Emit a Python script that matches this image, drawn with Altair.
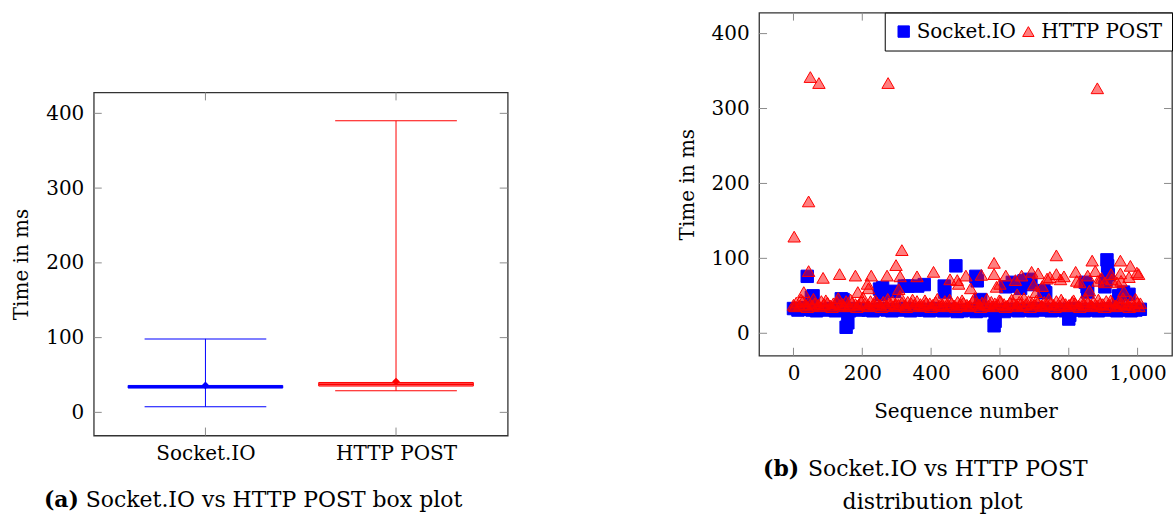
import altair as alt
import pandas as pd

FONT = "DejaVu Serif"
BLUE = "#0000ff"
RED = "#ff0000"
RED_FILL = "rgba(255,0,0,0.5)"
TICK_GRAY = "#8c8c8c"

# ---------------- box plot data ----------------
categories = ["Socket.IO", "HTTP POST"]
whisker_low = [7.6, 29.0]
whisker_high = [98.3, 390.0]
box_q1 = [32.5, 35.2]
box_q3 = [36.0, 40.0]
median = [34.2, 37.5]
mean = [36.0, 41.3]
box_fill = [BLUE, "#ff7f7f"]

y_ticks = [0, 100, 200, 300, 400]
x_ticks = [0, 200, 400, 600, 800, 1000]

caption_a_label = "(a)"
caption_a_text = "Socket.IO vs HTTP POST box plot"
caption_b_label = "(b)"
caption_b_text = "Socket.IO vs HTTP POST"
caption_b_text2 = "distribution plot"

# ---------------- scatter data ----------------
series = ["Socket.IO", "HTTP POST"]

socket_band_x = [0, 13, 27, 40, 54, 67, 81, 95, 108, 122, 136, 149, 163, 176, 190, 204, 217,
                 231, 245, 258, 272, 286, 299, 313, 326, 340, 354, 367, 381, 395, 408, 422,
                 436, 449, 463, 476, 490, 504, 517, 531, 545, 558, 572, 586, 599, 613, 626,
                 640, 654, 667, 681, 695, 708, 722, 736, 749, 763, 776, 790, 804, 817, 831,
                 845, 858, 872, 886, 899, 913, 926, 940, 954, 967, 981, 995, 1008]
socket_band_y = [33, 31, 32, 34, 31, 30, 32, 31, 33, 30, 31, 32, 30, 33, 31, 32, 31,
                 30, 32, 33, 31, 30, 32, 31, 33, 30, 31, 32, 31, 30, 33, 31,
                 30, 32, 31, 29, 30, 31, 32, 29, 30, 31, 32, 30, 31, 29, 32,
                 31, 30, 32, 31, 30, 33, 31, 32, 30, 31, 32, 30, 31, 33, 31,
                 30, 32, 31, 30, 32, 31, 33, 30, 31, 32, 30, 31, 32]
socket_out_x = [40, 52, 57, 139, 144, 153, 158, 250, 255, 259, 293, 322, 332, 361, 380, 438,
                440, 472, 530, 534, 544, 583, 586, 617, 636, 650, 660, 670, 684, 690, 728,
                733, 800, 803, 848, 853, 855, 905, 908, 911, 913, 915, 945, 959, 975]
socket_out_y = [76, 48, 50, 46, 45, 8, 14, 59, 52, 61, 56, 63, 63, 63, 65, 63,
                55, 90, 76, 70, 45, 10, 16, 62, 68, 63, 60, 70, 72, 65, 57,
                54, 19, 24, 68, 62, 55, 62, 70, 98, 90, 78, 50, 55, 52]

http_band_x = [0, 8, 18, 27, 35, 45, 54, 62, 72, 81, 89, 99, 108, 116, 126, 135, 143, 153,
               162, 170, 180, 189, 197, 207, 216, 224, 234, 243, 251, 261, 270, 278, 288,
               297, 305, 315, 324, 332, 342, 351, 359, 369, 378, 386, 396, 405, 413, 423,
               432, 440, 450, 459, 467, 477, 486, 494, 504, 513, 521, 531, 540, 548, 558,
               567, 575, 585, 594, 602, 612, 621, 629, 639, 648, 656, 666, 675, 683, 693,
               702, 710, 720, 729, 737, 747, 756, 764, 774, 783, 791, 801, 810, 818, 828,
               837, 845, 855, 864, 872, 882, 891, 899, 909, 918, 926, 936, 945, 953, 963,
               972, 980, 990, 999, 1008]
http_band_y = [38, 41, 37, 43, 39, 42, 37, 40, 38, 43, 39, 41, 37, 40, 42, 38, 39, 43,
               37, 41, 39, 38, 42, 40, 37, 43, 39, 41, 38, 42, 37, 40, 43,
               39, 38, 41, 37, 42, 40, 38, 43, 39, 37, 41, 40, 38, 42, 37,
               39, 43, 38, 40, 37, 42, 39, 41, 38, 37, 43, 40, 38, 41, 39,
               37, 42, 40, 38, 43, 39, 37, 41, 40, 38, 42, 37, 39, 43, 40,
               38, 41, 37, 42, 39, 40, 38, 43, 37, 41, 39, 38, 42, 40, 37,
               43, 39, 41, 38, 42, 37, 40, 39, 43, 38, 41, 37, 42, 40, 39,
               38, 43, 37, 41, 40]
http_band2_x = [4, 22, 40, 58, 76, 94, 112, 130, 148, 166, 184, 202, 220, 238, 256, 274,
                292, 310, 328, 346, 364, 382, 400, 418, 436, 454, 472, 490, 508, 526, 544,
                562, 580, 598, 616, 634, 652, 670, 688, 706, 724, 742, 760, 778, 796, 814,
                832, 850, 868, 886, 904, 922, 940, 958, 976, 994, 1004]
http_band2_y = [36, 45, 35, 46, 36, 44, 35, 47, 36, 45, 35, 48, 36, 44, 35, 46,
                36, 50, 35, 45, 36, 44, 35, 46, 36, 45, 35, 44, 36, 47, 35,
                46, 36, 44, 35, 45, 36, 47, 35, 44, 36, 46, 35, 45, 36, 44,
                35, 46, 36, 45, 35, 44, 36, 47, 35, 46, 36]
http_out_x = [2, 44, 49, 74, 275, 883, 44, 30, 86, 134, 180, 187, 215, 218, 226, 272, 298,
              315, 310, 306, 359, 407, 455, 476, 480, 501, 515, 546, 583, 583, 590, 600,
              617, 645, 650, 663, 692, 698, 711, 705, 723, 737, 745, 764, 764, 786, 776,
              820, 823, 832, 855, 860, 868, 877, 885, 895, 905, 923, 925, 940, 950, 950,
              952, 960, 975, 979, 998, 1003]
http_out_y = [129, 176, 342, 334, 334, 327, 83, 55, 74, 79, 77, 55, 66, 60, 77, 77, 91,
              111, 76, 59, 76, 82, 72, 71, 66, 77, 60, 78, 94, 79, 62, 66,
              77, 71, 52, 77, 82, 65, 80, 55, 63, 73, 75, 104, 79, 76, 72,
              82, 70, 68, 77, 57, 97, 83, 70, 74, 68, 79, 72, 68, 97, 80,
              70, 56, 75, 90, 81, 79]

# ---------------- tables ----------------
box_df = pd.DataFrame({
    "cat": categories, "lo": whisker_low, "hi": whisker_high,
    "q1": box_q1, "q3": box_q3, "med": median, "mean": mean,
})
ytick_df = pd.DataFrame({"v": y_ticks})
xtick_df = pd.DataFrame({"v": x_ticks})
cat_df = pd.DataFrame({"cat": categories})

scatter_df = pd.concat([
    pd.DataFrame({"seq": socket_band_x + socket_out_x,
                  "ms": socket_band_y + socket_out_y, "series": "Socket.IO"}),
    pd.DataFrame({"seq": http_band_x + http_band2_x + http_out_x,
                  "ms": http_band_y + http_band2_y + http_out_y, "series": "HTTP POST"}),
], ignore_index=True)

# ---------------- left: box plot ----------------
W1, H1 = 415, 344
CAP_FS = 22
yscale = alt.Scale(domain=[-31, 428], nice=False, zero=False)
yaxis = alt.Axis(values=y_ticks, title="Time in ms", ticks=False, domain=False, grid=False,
                 labelFont=FONT, labelFontSize=20, labelColor="black", labelPadding=10,
                 titleFont=FONT, titleFontSize=20, titleFontWeight="normal",
                 titleColor="black", titlePadding=14)
xcat = alt.X("cat:N", scale=alt.Scale(type="point", domain=categories, padding=0.586),
             axis=alt.Axis(title=None, labelAngle=0, ticks=False, domain=False, grid=False,
                           labelFont=FONT, labelFontSize=20, labelColor="black",
                           labelPadding=8))
col = alt.Color("cat:N", scale=alt.Scale(domain=categories, range=[BLUE, RED]), legend=None)
strk = alt.Stroke("cat:N", scale=alt.Scale(domain=categories, range=[BLUE, RED]), legend=None)
fillc = alt.Fill("cat:N", scale=alt.Scale(domain=categories, range=box_fill), legend=None)


def Y(field):
    return alt.Y(field, scale=yscale, axis=yaxis)


base = alt.Chart(box_df)
whisk = base.mark_rule(strokeWidth=1, opacity=1).encode(x=xcat, y=Y("lo:Q"), y2="hi:Q", color=col)
cap_lo = base.mark_tick(size=122, thickness=1, opacity=1).encode(x=xcat, y=Y("lo:Q"), color=col)
cap_hi = base.mark_tick(size=122, thickness=1, opacity=1).encode(x=xcat, y=Y("hi:Q"), color=col)
box = base.mark_bar(size=155, strokeWidth=1, opacity=1).encode(
    x=xcat, y=Y("q1:Q"), y2="q3:Q", fill=fillc, stroke=strk)
med = base.mark_tick(size=155, thickness=1.5, opacity=1).encode(x=xcat, y=Y("med:Q"), color=col)
mn = base.mark_point(filled=True, shape="diamond", size=60, opacity=1).encode(
    x=xcat, y=Y("mean:Q"), color=col)

tk = dict(color=TICK_GRAY, strokeWidth=1)
yt_l = alt.Chart(ytick_df).mark_rule(**tk).encode(y=Y("v:Q"), x=alt.value(0), x2=alt.value(8))
yt_r = alt.Chart(ytick_df).mark_rule(**tk).encode(y=Y("v:Q"), x=alt.value(W1 - 8), x2=alt.value(W1))
xt_b = alt.Chart(cat_df).mark_rule(**tk).encode(x=xcat, y=alt.value(H1 - 8), y2=alt.value(H1))
xt_t = alt.Chart(cat_df).mark_rule(**tk).encode(x=xcat, y=alt.value(0), y2=alt.value(8))

cap_a1 = alt.Chart(pd.DataFrame({"t": [caption_a_label]})).mark_text(
    font=FONT, fontSize=CAP_FS, fontWeight="bold", align="left", baseline="alphabetic",
    color="black").encode(text="t:N", x=alt.value(-50), y=alt.value(416))
cap_a2 = alt.Chart(pd.DataFrame({"t": [caption_a_text]})).mark_text(
    font=FONT, fontSize=CAP_FS, align="left", baseline="alphabetic",
    color="black").encode(text="t:N", x=alt.value(-8), y=alt.value(416))

left_plot = alt.layer(yt_l, yt_r, xt_b, xt_t, whisk, cap_lo, cap_hi, box, med, mn,
                      cap_a1, cap_a2).properties(width=W1, height=H1)

spacer = alt.Chart(pd.DataFrame({"a": [0]})).mark_point(opacity=0).encode(
    x=alt.value(1), y=alt.value(1)).properties(
    width=W1, height=78, view=alt.ViewBackground(stroke=None))

left = alt.vconcat(spacer, left_plot, spacing=0)

# ---------------- right: scatter ----------------
W2, H2 = 414, 344
yscale2 = alt.Scale(domain=[-30, 428], nice=False, zero=False)
xscale2 = alt.Scale(domain=[-100, 1100], nice=False, zero=False)
xaxis2 = alt.Axis(values=x_ticks, format=",d", title="Sequence number", ticks=False,
                  domain=False, grid=False, labelFont=FONT, labelFontSize=20,
                  labelColor="black", labelPadding=8, titleFont=FONT, titleFontSize=20,
                  titleFontWeight="normal", titleColor="black", titlePadding=18)
leg = alt.Legend(title=None, orient="top-right", offset=0, direction="horizontal",
                 labelFont=FONT, labelFontSize=20, labelColor="black", labelLimit=400,
                 strokeColor="black", fillColor="white", padding=9, symbolSize=130,
                 symbolStrokeWidth=1, columnPadding=2, labelOffset=3)


def Y2(field):
    return alt.Y(field, scale=yscale2, axis=yaxis)


def X2(field):
    return alt.X(field, scale=xscale2, axis=xaxis2)


pts = alt.Chart(scatter_df).mark_point(filled=True, size=155, strokeWidth=1, opacity=1).encode(
    x=X2("seq:Q"), y=Y2("ms:Q"),
    shape=alt.Shape("series:N", scale=alt.Scale(domain=series, range=["square", "triangle-up"]), legend=leg),
    fill=alt.Fill("series:N", scale=alt.Scale(domain=series, range=[BLUE, RED_FILL]), legend=leg),
    stroke=alt.Stroke("series:N", scale=alt.Scale(domain=series, range=[BLUE, RED]), legend=leg),
)

yt2_l = alt.Chart(ytick_df).mark_rule(**tk).encode(y=Y2("v:Q"), x=alt.value(0), x2=alt.value(8))
yt2_r = alt.Chart(ytick_df).mark_rule(**tk).encode(y=Y2("v:Q"), x=alt.value(W2 - 8), x2=alt.value(W2))
xt2_b = alt.Chart(xtick_df).mark_rule(**tk).encode(x=X2("v:Q"), y=alt.value(H2 - 8), y2=alt.value(H2))
xt2_t = alt.Chart(xtick_df).mark_rule(**tk).encode(x=X2("v:Q"), y=alt.value(0), y2=alt.value(8))

cap_b1 = alt.Chart(pd.DataFrame({"t": [caption_b_label]})).mark_text(
    font=FONT, fontSize=CAP_FS, fontWeight="bold", align="left", baseline="alphabetic",
    color="black").encode(text="t:N", x=alt.value(4), y=alt.value(465))
cap_b2 = alt.Chart(pd.DataFrame({"t": [caption_b_text]})).mark_text(
    font=FONT, fontSize=CAP_FS, align="left", baseline="alphabetic",
    color="black").encode(text="t:N", x=alt.value(49), y=alt.value(465))
cap_b3 = alt.Chart(pd.DataFrame({"t": [caption_b_text2]})).mark_text(
    font=FONT, fontSize=CAP_FS, align="center", baseline="alphabetic",
    color="black").encode(text="t:N", x=alt.value(174), y=alt.value(498))

right = alt.layer(yt2_l, yt2_r, xt2_b, xt2_t, pts, cap_b1, cap_b2, cap_b3).properties(
    width=W2, height=H2)

chart = alt.hconcat(left, right, spacing=167).resolve_scale(
    color="independent", fill="independent", stroke="independent", shape="independent",
).resolve_legend(
    color="independent", fill="independent", stroke="independent", shape="independent",
).properties(
    padding={"left": 11, "top": 10, "right": 0, "bottom": 0},
    background="white",
).configure_view(stroke="#333333", strokeWidth=1.3)

chart.save("out.html", embed_options={"renderer": "svg", "actions": False})
